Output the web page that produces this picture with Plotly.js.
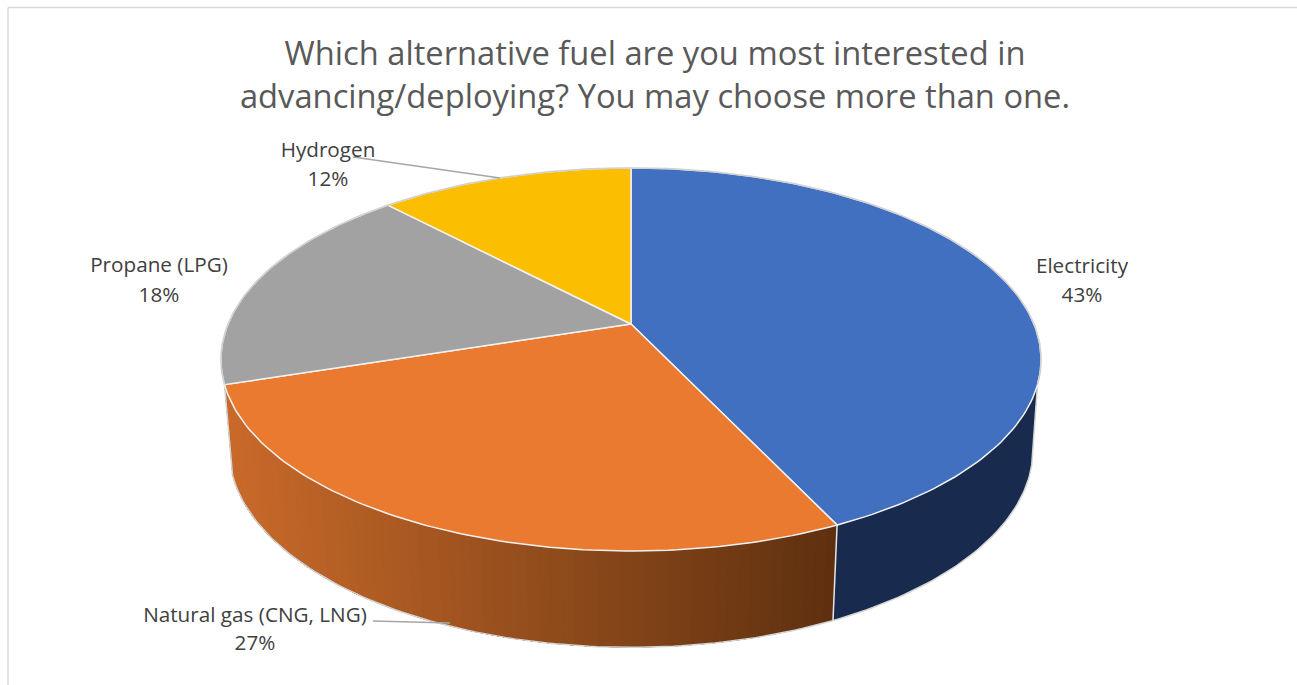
<!DOCTYPE html>
<html>
<head>
<meta charset="utf-8">
<script src="https://cdn.plot.ly/plotly-3.0.1.min.js"></script>
<style>html,body{margin:0;padding:0;background:#fff;overflow:hidden}</style>
</head>
<body>
<div id="chart" style="width:1297px;height:685px"></div>
<script>
// Survey answers, in the order they run clockwise from twelve o'clock
const categories = ['Electricity', 'Natural gas (CNG, LNG)', 'Propane (LPG)', 'Hydrogen'];
const shares = [43, 27, 18, 12];
const faceColors = ['#4270C0', '#EA7A2F', '#A2A2A2', '#FBBE00'];

// Label anchors in chart pixels: name line and percent line share an x
const labelX = [1082, 255, 159, 328];
const nameY = [268, 617, 267, 152];
const percentY = [297, 645, 297, 181];

const chartTitle = 'Which alternative fuel are you most interested in<br>advancing/deploying? You may choose more than one.';

// Perspective projection of the disc's top and bottom rims
const topRim = {cx: 631, cy: 324, a: 403, b: 185, k: 0.185};
const bottomRim = {cx: 631, cy: 413, a: 395, b: 191, k: 0.185};

function project(rim, deg) {
  const t = deg * Math.PI / 180, u = Math.sin(t), v = Math.cos(t), w = 1 + rim.k * v;
  return [rim.cx + rim.a * u / w, rim.cy - rim.b * v / w];
}
function arc(rim, from, to, step) {
  const pts = [], n = Math.max(1, Math.ceil(Math.abs(to - from) / step));
  for (let i = 0; i <= n; i++) pts.push(project(rim, from + (to - from) * i / n));
  return pts;
}
function poly(pts, fill, line, width) {
  return {
    type: 'scatter', mode: 'lines', hoverinfo: 'skip', showlegend: false,
    x: pts.map(p => p[0]), y: pts.map(p => p[1]),
    fill: fill ? 'toself' : 'none', fillcolor: fill || undefined,
    line: {color: line || fill, width: width === undefined ? 0 : width}
  };
}
function mix(c1, c2, f) {
  return 'rgb(' + c1.map((c, i) => Math.round(c + (c2[i] - c) * f)).join(',') + ')';
}

// Slice boundaries in degrees
const total = shares.reduce((s, v) => s + v, 0);
const edges = [0];
shares.forEach(v => edges.push(edges[edges.length - 1] + v / total * 360));

// Where the wall leaves the top rim and meets the bottom rim on the right-hand silhouette
const silhouetteTop = 108, silhouetteBottom = 105;

const traces = [];

// Side wall: a flat dark band under Electricity
traces.push(poly(arc(topRim, silhouetteTop, edges[1], 1).concat(arc(bottomRim, edges[1], silhouetteBottom, 1)), '#182B4E'));

// Shaded band under Natural gas: each strip runs to the band's end, so the next one paints over it without seams
const wallLeft = [201, 106, 42], wallRight = [94, 48, 15];
const strips = 70, span = edges[2] - edges[1];
const xStart = project(bottomRim, edges[1])[0], xEnd = project(bottomRim, edges[2])[0];
for (let i = 0; i < strips; i++) {
  const a = edges[1] + span * i / strips;
  const midX = project(bottomRim, a + span / strips / 2)[0];
  const f = (xStart - midX) / (xStart - xEnd);
  traces.push(poly(arc(topRim, a, edges[2], 1).concat(arc(bottomRim, edges[2], a, 1)), mix(wallRight, wallLeft, f)));
}

// Wall outline along the outer silhouette and the seam between the two bands
traces.push(poly(arc(bottomRim, silhouetteBottom, edges[2], 1), null, '#D4D4D4', 1.5));
traces.push(poly([project(topRim, edges[2]), project(bottomRim, edges[2])], null, '#D4D4D4', 1.5));
traces.push(poly([project(topRim, silhouetteTop), project(bottomRim, silhouetteBottom)], null, '#D4D4D4', 1.5));
traces.push(poly([project(topRim, edges[1]), project(bottomRim, edges[1])], null, '#E6E6E6', 1.5));

// Top faces of the slices
const apex = [topRim.cx, topRim.cy];
shares.forEach((v, i) => {
  traces.push(poly([apex].concat(arc(topRim, edges[i], edges[i + 1], 1), [apex]), faceColors[i], '#F2F2F2', 1.5));
});
// Soft grey rim on the far side of the disc
traces.push(poly(arc(topRim, edges[2], 360, 1), null, '#D0D0D0', 1.5));
traces.push(poly(arc(topRim, 0, silhouetteTop, 1), null, '#D0D0D0', 1.5));

// Leader lines from the two detached labels to their slices
traces.push(poly([[353, 157], [500, 178]], null, '#A6A6A6', 1.5));
traces.push(poly([[373, 621], [450, 623]], null, '#A6A6A6', 1.5));

// Data labels: category name above its percentage
const labelFont = {family: '"Open Sans", sans-serif', size: 20.7, color: '#404040'};
traces.push({
  type: 'scatter', mode: 'text', hoverinfo: 'skip', showlegend: false,
  x: labelX, y: nameY, text: categories, textposition: 'middle center', textfont: labelFont
});
traces.push({
  type: 'scatter', mode: 'text', hoverinfo: 'skip', showlegend: false,
  x: labelX, y: percentY, text: shares.map(v => v + '%'), textposition: 'middle center', textfont: labelFont
});

const layout = {
  width: 1297, height: 685,
  margin: {l: 0, r: 0, t: 0, b: 0},
  paper_bgcolor: '#fff', plot_bgcolor: '#fff',
  showlegend: false,
  title: {
    text: chartTitle, x: 655 / 1297, xanchor: 'center', y: 0.9045, yanchor: 'middle',
    font: {family: '"Open Sans", sans-serif', size: 32.7, color: '#595959'}
  },
  xaxis: {range: [0, 1297], visible: false, fixedrange: true},
  yaxis: {range: [685, 0], visible: false, fixedrange: true},
  shapes: [
    // Chart frame: only the top and left edges fall inside the view
    {type: 'line', xref: 'x', yref: 'y', x0: 8, y0: 7.5, x1: 1297, y1: 7.5, line: {color: '#D9D9D9', width: 1.5}},
    {type: 'line', xref: 'x', yref: 'y', x0: 8, y0: 7.5, x1: 8, y1: 685, line: {color: '#D9D9D9', width: 1.5}}
  ]
};

Plotly.newPlot('chart', traces, layout, {displayModeBar: false, staticPlot: true});
</script>
</body>
</html>
